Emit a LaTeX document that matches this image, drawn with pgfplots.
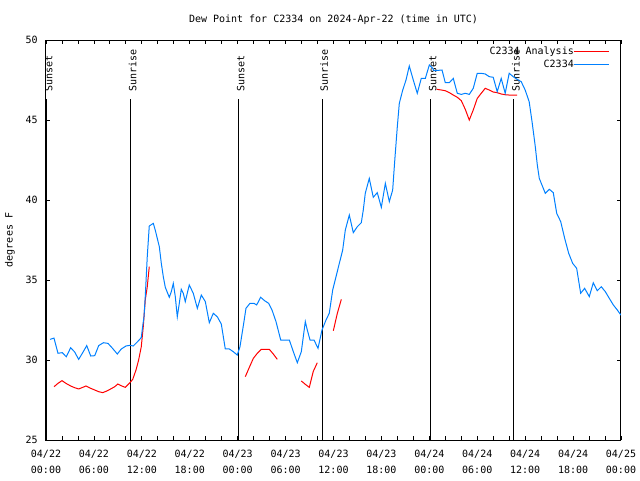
\documentclass[border=0pt]{standalone}
\usepackage{fontspec}
\setmainfont{DejaVu Sans Mono}
\usepackage{pgfplots}
\pgfplotsset{compat=1.18}
\definecolor{gpred}{RGB}{255,0,0}
\definecolor{gpblue}{RGB}{0,128,255}
\begin{document}
\fontsize{7.5pt}{9pt}\selectfont
\begin{tikzpicture}
\useasboundingbox (-34.5pt,-30pt) rectangle (445.5pt,330pt);
\begin{axis}[
  scale only axis, width=431.25pt, height=300pt,
  xmin=0, xmax=72, ymin=25, ymax=50,
  axis line style={line width=0.75pt},
  every tick/.style={black, line width=0.6pt},
  tick align=inside,
  major tick length=3pt, minor tick length=3pt,
  xtick={0,6,...,72},
  minor xtick={2,4,8,10,14,16,20,22,26,28,32,34,38,40,44,46,50,52,56,58,62,64,68,70},
  xticklabels={{04/22\\00:00},{04/22\\06:00},{04/22\\12:00},{04/22\\18:00},{04/23\\00:00},{04/23\\06:00},{04/23\\12:00},{04/23\\18:00},{04/24\\00:00},{04/24\\06:00},{04/24\\12:00},{04/24\\18:00},{04/25\\00:00}},
  xticklabel style={align=center, font=\fontsize{7.5pt}{12pt}\selectfont, inner sep=0pt, yshift=-7pt},
  ytick={25,30,...,50},
  /pgf/number format/assume math mode=true,
  yticklabel style={font=\fontsize{7.5pt}{9pt}\selectfont, inner sep=0pt, xshift=-6pt},
  ylabel={degrees F},
  ylabel style={at={(axis description cs:-0.0626,0.5)}, anchor=center, font=\fontsize{7.5pt}{9pt}\selectfont},
  title={Dew Point for C2334 on 2024-Apr-22 (time in UTC)},
  title style={at={(axis description cs:0.5,1)}, anchor=base, yshift=7.5pt, font=\fontsize{7.5pt}{9pt}\selectfont},
  legend style={draw=none, fill=none, at={(axis description cs:0.981,0.9825)}, anchor=north east,
    inner sep=0pt, row sep=3pt, column sep=0pt, font=\fontsize{7.5pt}{9pt}\selectfont,
    nodes={inner sep=0pt}},
  legend cell align=right,
  legend plot pos=right,
  legend image code/.code={\path (0pt,0pt) -- (26.25pt,0pt); \draw[#1] (5.25pt,0pt) -- (26.25pt,0pt);},
  unbounded coords=jump,
  clip=true,
]
% sunrise / sunset markers
\foreach \t/\lab in {0.1/Sunset,10.63/Sunrise,24.15/Sunset,34.58/Sunrise,48.19/Sunset,58.6/Sunrise}{
  \edef\temp{\noexpand\draw[black, line width=0.75pt] (axis cs:\t,25) -- (axis cs:\t,46.33);
  \noexpand\node[rotate=90, anchor=base west, inner sep=0pt, font=\noexpand\fontsize{7.5pt}{9pt}\noexpand\selectfont] at ([xshift=4.2pt]axis cs:\t,46.75) {\lab};}
  \temp
}
\addplot[gpred, line width=0.75pt] coordinates {
(1.0,28.33) (1.5,28.54) (2.0,28.71) (2.5,28.54) (3.09,28.375) (3.59,28.27) (4.09,28.19) (4.6,28.29)
(5.0,28.375) (5.6,28.23) (6.1,28.125) (6.6,28.02) (7.1,27.96) (7.6,28.06) (8.1,28.19) (8.6,28.33)
(9.0,28.5) (9.5,28.375) (9.93,28.29) (10.43,28.54) (10.86,28.79) (11.27,29.375) (11.6,30.0)
(11.93,30.83) (12.18,32.08) (12.43,33.75) (12.68,34.58) (12.93,35.83)
(13.2,nan)
(24.96,28.96) (25.46,29.54) (25.96,30.1) (26.46,30.42) (26.96,30.67) (27.46,30.67) (27.96,30.67)
(28.46,30.375) (28.96,30.04)
(30,nan)
(31.97,28.69) (32.47,28.48) (32.97,28.29) (33.47,29.29) (33.97,29.83)
(35,nan)
(35.98,31.83) (36.48,32.92) (36.98,33.79)
(40,nan)
(48.92,46.92) (49.5,46.875) (50.0,46.83) (50.5,46.71) (51.0,46.56) (51.5,46.42) (52.0,46.21)
(52.5,45.67) (53.0,45.0) (53.5,45.625) (54.0,46.35) (54.5,46.67) (55.0,46.98) (55.5,46.875)
(56.0,46.75) (56.5,46.71) (57.0,46.625) (57.5,46.58) (58.0,46.56) (58.5,46.56) (59.0,46.56)
};
\addlegendentry{C2334 Analysis}
\addplot[gpblue, line width=0.75pt] coordinates {
(0.5,31.29) (1.0,31.37) (1.5,30.42) (2.04,30.46) (2.54,30.2) (3.09,30.77) (3.59,30.5) (4.09,30.04)
(4.6,30.46) (5.1,30.9) (5.6,30.25) (6.1,30.27) (6.6,30.9) (7.18,31.08) (7.76,31.04) (8.26,30.77)
(8.93,30.375) (9.43,30.69) (10.02,30.875) (10.52,30.92) (10.93,30.875) (11.43,31.125) (11.93,31.4)
(12.1,32.08) (12.27,32.7) (12.43,33.96) (12.68,36.46) (12.93,38.375) (13.44,38.54) (13.69,38.1)
(14.19,37.08) (14.44,36.04) (14.69,35.2) (14.94,34.54) (15.44,33.92) (15.69,34.27) (15.94,34.79)
(16.19,33.96) (16.44,32.7) (16.69,33.54) (16.94,34.42) (17.19,34.17) (17.44,33.65) (17.69,34.17)
(17.94,34.69) (18.44,34.17) (18.95,33.23) (19.45,34.06) (19.95,33.65) (20.45,32.33) (20.95,32.92)
(21.45,32.7) (21.95,32.25) (22.45,30.69) (22.95,30.69) (23.45,30.52) (23.95,30.31) (24.29,30.83)
(24.79,32.4) (25.04,33.23) (25.54,33.54) (26.05,33.54) (26.38,33.44) (26.88,33.92) (27.39,33.7)
(27.89,33.54) (28.3,33.125) (28.8,32.4) (29.39,31.25) (29.89,31.25) (30.47,31.25) (30.97,30.52)
(31.47,29.83) (31.97,30.52) (32.47,32.4) (32.72,31.875) (33.06,31.25) (33.56,31.25) (34.06,30.73)
(34.56,31.875) (35.06,32.5) (35.47,32.92) (35.9,34.375) (36.31,35.2) (36.73,36.04) (37.15,36.875)
(37.48,38.125) (37.98,39.06) (38.48,37.96) (38.98,38.33) (39.48,38.58) (39.73,39.375) (39.98,40.42)
(40.48,41.35) (40.98,40.17) (41.48,40.46) (41.99,39.54) (42.49,41.04) (42.99,39.9) (43.41,40.625)
(43.66,42.4) (43.99,44.58) (44.24,46.04) (44.67,46.875) (45.08,47.5) (45.49,48.375) (45.99,47.5)
(46.49,46.67) (46.99,47.6) (47.5,47.6) (48.0,48.44) (48.42,48.23) (48.59,48.08) (49.59,48.125)
(50.0,47.33) (50.5,47.33) (51.0,47.6) (51.5,46.67) (52.0,46.6) (52.5,46.67) (53.0,46.6) (53.5,46.98)
(54.0,47.92) (54.5,47.92) (55.0,47.875) (55.5,47.71) (56.0,47.67) (56.5,46.77) (57.0,47.6)
(57.5,46.67) (58.0,47.92) (58.5,47.71) (59.0,47.54) (59.5,47.4) (60.0,46.875) (60.5,46.15)
(60.86,44.9) (61.27,43.33) (61.52,42.19) (61.77,41.35) (62.52,40.42) (63.02,40.67) (63.52,40.46)
(63.95,39.17) (64.45,38.65) (64.95,37.6) (65.45,36.67) (65.95,36.04) (66.45,35.73) (66.95,34.17)
(67.45,34.48) (68.03,33.96) (68.53,34.83) (69.03,34.33) (69.53,34.58) (70.04,34.27) (70.54,33.85)
(71.04,33.44) (71.54,33.125) (72.0,32.8)
};
\addlegendentry{C2334}
\end{axis}
\end{tikzpicture}
\end{document}
